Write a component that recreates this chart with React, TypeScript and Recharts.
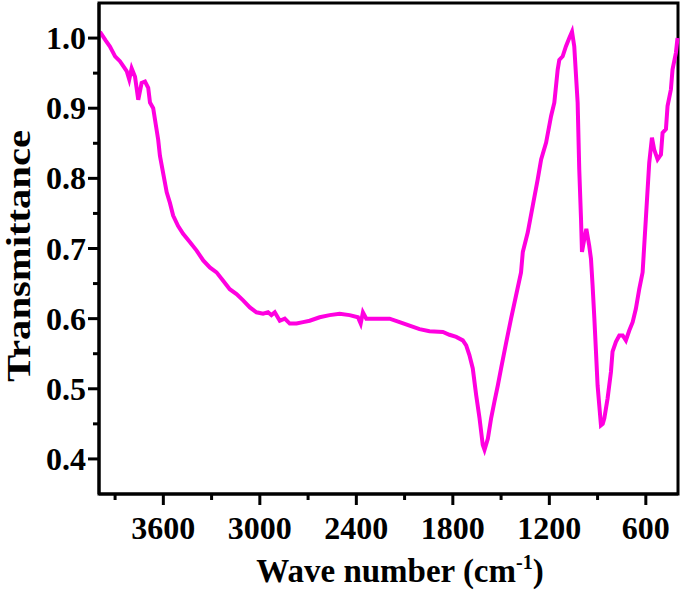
import React from 'react'
import { LineChart, Line, XAxis, YAxis, ReferenceArea } from 'recharts'

// wave numbers (cm-1), high to low
const waveNumbers = [
  3994, 3960, 3932, 3900, 3870, 3849, 3828, 3812, 3797, 3776, 3756, 3735, 3714,
  3694, 3683, 3663, 3652, 3632, 3621, 3600, 3579, 3559, 3539, 3508, 3477, 3434,
  3393, 3352, 3311, 3269, 3228, 3187, 3145, 3104, 3062, 3021, 2980, 2949, 2928,
  2907, 2876, 2845, 2814, 2772, 2731, 2690, 2628, 2566, 2504, 2442, 2390, 2373,
  2359, 2338, 2297, 2255, 2193, 2131, 2069, 2007, 1945, 1862, 1821, 1779, 1738,
  1717, 1697, 1676, 1655, 1634, 1614, 1603, 1582, 1562, 1541, 1520, 1500, 1469,
  1438, 1407, 1376, 1365, 1334, 1303, 1272, 1251, 1220, 1189, 1169, 1148, 1138,
  1117, 1097, 1076, 1059, 1045, 1024, 1014, 1003, 997, 983, 970, 952, 941, 931,
  920, 910, 900, 889, 879, 868, 858, 838, 817, 807, 786, 765, 744, 724, 703, 682,
  662, 641, 620, 600, 579, 562, 548, 527, 506, 496, 475, 465, 444, 434, 413, 403,
]

const transmittance = [
  1.009, 0.997, 0.988, 0.974, 0.967, 0.96, 0.953, 0.941, 0.957, 0.945, 0.912,
  0.936, 0.938, 0.929, 0.908, 0.9, 0.884, 0.855, 0.832, 0.806, 0.78, 0.765,
  0.747, 0.732, 0.721, 0.709, 0.697, 0.683, 0.673, 0.666, 0.654, 0.642, 0.635,
  0.626, 0.616, 0.609, 0.607, 0.609, 0.605, 0.609, 0.597, 0.6, 0.593, 0.593,
  0.595, 0.597, 0.602, 0.605, 0.607, 0.605, 0.602, 0.593, 0.609, 0.6, 0.6, 0.6,
  0.6, 0.595, 0.59, 0.585, 0.582, 0.581, 0.577, 0.574, 0.569, 0.562, 0.548,
  0.529, 0.491, 0.458, 0.42, 0.413, 0.429, 0.458, 0.482, 0.505, 0.529, 0.565,
  0.6, 0.633, 0.666, 0.695, 0.723, 0.761, 0.799, 0.827, 0.851, 0.889, 0.908,
  0.955, 0.969, 0.974, 0.988, 1.0, 1.009, 0.988, 0.908, 0.813, 0.742, 0.695,
  0.713, 0.728, 0.704, 0.685, 0.647, 0.6, 0.553, 0.505, 0.475, 0.448, 0.45,
  0.458, 0.486, 0.524, 0.553, 0.567, 0.576, 0.576, 0.569, 0.583, 0.595, 0.614,
  0.642, 0.666, 0.742, 0.822, 0.858, 0.841, 0.827, 0.834, 0.865, 0.87, 0.903,
  0.927, 0.955, 0.979, 1.0,
]

const xTicks = [3900, 3600, 3300, 3000, 2700, 2400, 2100, 1800, 1500, 1200, 900, 600]
const yTicks = [0.4, 0.45, 0.5, 0.55, 0.6, 0.65, 0.7, 0.75, 0.8, 0.85, 0.9, 0.95, 1.0]

const data = waveNumbers.map((w, i) => ({ wave: w, t: transmittance[i] }))

const font = '"Liberation Serif", "Times New Roman", serif'

const XTick = (props: any) => {
  const { x, y, payload } = props
  const major = payload.value % 600 === 0
  return (
    <g>
      <line x1={x} x2={x} y1={y} y2={y + (major ? 11 : 6)} stroke="#000" strokeWidth={3} />
      {major && (
        <text x={x} y={y + 45} textAnchor="middle" fontFamily={font} fontWeight="bold" fontSize={32} fill="#000">
          {payload.value}
        </text>
      )}
    </g>
  )
}

const YTick = (props: any) => {
  const { x, y, payload } = props
  const major = Math.round(payload.value * 100) % 10 === 0
  return (
    <g>
      <line x1={x} x2={x - (major ? 11 : 6)} y1={y} y2={y} stroke="#000" strokeWidth={3} />
      {major && (
        <text x={x - 13} y={y + 11} textAnchor="end" fontFamily={font} fontWeight="bold" fontSize={32} fill="#000">
          {payload.value.toFixed(1)}
        </text>
      )}
    </g>
  )
}

export default function App() {
  return (
    <div style={{ position: 'absolute', left: 0, top: 0 }}>
      <LineChart width={684} height={591} data={data} margin={{ top: 3, right: 6, left: 0, bottom: 0 }}>
        <XAxis
          dataKey="wave"
          type="number"
          domain={[400, 4000]}
          reversed
          ticks={xTicks}
          tick={<XTick />}
          tickLine={false}
          tickSize={0}
          tickMargin={0}
          height={97}
          axisLine={{ stroke: '#000', strokeWidth: 3 }}
          interval={0}
          label={{
            content: () => (
              <text x={400} y={582} textAnchor="middle" fontFamily={font} fontWeight="bold" fontSize={33} fill="#000">
                Wave number (cm<tspan dy={-13} fontSize={20}>-1</tspan>
                <tspan dy={13}>)</tspan>
              </text>
            ),
          }}
        />
        <YAxis
          type="number"
          domain={[0.35, 1.05]}
          ticks={yTicks}
          tick={<YTick />}
          tickLine={false}
          tickSize={0}
          tickMargin={0}
          width={99}
          axisLine={{ stroke: '#000', strokeWidth: 3 }}
          interval={0}
          label={{
            content: () => (
              <text
                x={30}
                y={256}
                transform="rotate(-90 30 256)"
                textAnchor="middle"
                fontFamily={font}
                fontWeight="bold"
                fontSize={33}
                textLength={252}
                lengthAdjust="spacingAndGlyphs"
                fill="#000"
              >
                Transmittance
              </text>
            ),
          }}
        />
        <ReferenceArea x1={4000} x2={400} y1={0.35} y2={1.05} fill="none" stroke="#000" strokeWidth={3} />
        <Line
          dataKey="t"
          type="linear"
          stroke="#ff00e0"
          strokeWidth={4}
          dot={false}
          isAnimationActive={false}
        />
      </LineChart>
    </div>
  )
}
